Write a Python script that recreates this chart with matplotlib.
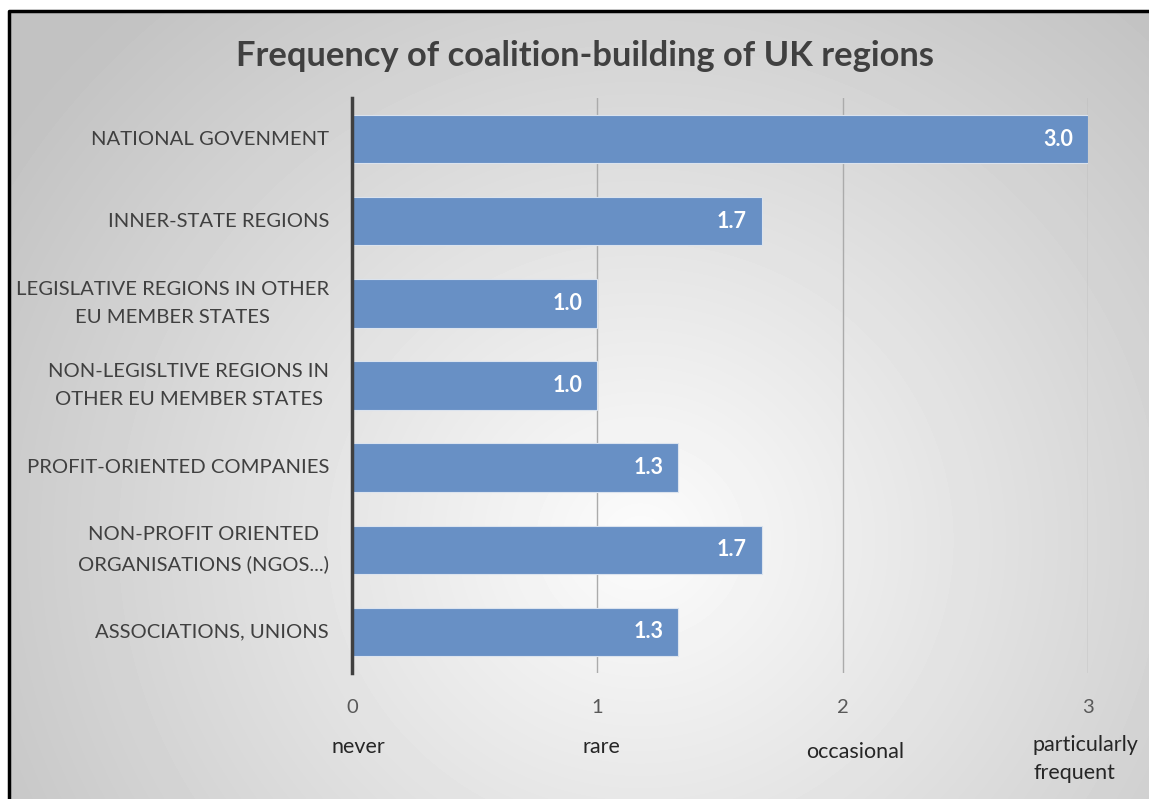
import matplotlib
matplotlib.use('Agg')
import matplotlib.pyplot as plt
import numpy as np

plt.rcParams['font.family'] = ['Lato', 'DejaVu Sans']

categories = ['NATIONAL GOVENMENT', 'INNER-STATE REGIONS',
              'LEGISLATIVE REGIONS IN OTHER\nEU MEMBER STATES',
              'NON-LEGISLTIVE REGIONS IN\nOTHER EU MEMBER STATES',
              'PROFIT-ORIENTED COMPANIES',
              'NON-PROFIT ORIENTED\nORGANISATIONS (NGOS...)',
              'ASSOCIATIONS, UNIONS']
values = [3.0, 1.67, 1.0, 1.0, 1.33, 1.67, 1.33]
xticks = [0, 1, 2, 3]
scale_labels = ['never', 'rare', 'occasional', 'particularly\nfrequent']

W, H = 1149, 799
fig = plt.figure(figsize=(W / 100, H / 100), dpi=100, facecolor='white')

# radial grey background like the office chart area
bg = fig.add_axes([0, 0, 1, 1], zorder=-5)
yy, xx = np.mgrid[0:H, 0:W]
d = np.sqrt(((xx - 640) / 1.0) ** 2 + ((yy - 540) / 0.95) ** 2)
shade = 252 - 58 * np.clip(d / 760, 0, 1)
bg.imshow(shade, cmap='gray', vmin=0, vmax=255, extent=[0, W, H, 0], aspect='auto')
bg.set_xlim(0, W)
bg.set_ylim(H, 0)
bg.fill_between([0, W], 0, 10, color='white')
bg.fill_between([0, 7], 0, H, color='white')
bg.plot([8.5, 8.5, W], [H, 11, 11], color='black', lw=2.5, solid_capstyle='butt')
bg.axis('off')

ax = fig.add_axes([352 / W, 1 - 673 / H, (1088 - 352) / W, (673 - 98) / H])
ax.patch.set_alpha(0)
y = np.arange(len(categories))
bars = ax.barh(y, values, height=0.59, color='#6890c5', edgecolor='#dbe3ee', linewidth=0.8, zorder=3)
ax.set_xlim(0, 3)
ax.set_ylim(len(categories) - 0.5, -0.5)
ax.set_yticks(y)
ax.set_yticklabels(categories, fontsize=14.6, color='#404040', multialignment='center',
                   linespacing=1.8, va='center')
ax.set_xticks(xticks)
ax.set_xticklabels([str(t) for t in xticks], fontsize=14.5, color='#595959')
ax.tick_params(axis='y', length=0, pad=16.5)
ax.tick_params(axis='x', length=0, pad=19)
ax.grid(axis='x', color='#ababab', lw=1, zorder=1)
for s in ['top', 'right', 'bottom']:
    ax.spines[s].set_visible(False)
ax.spines['left'].set_color('#404040')
ax.spines['left'].set_linewidth(2.5)
ax.spines['left'].set_zorder(4)

for b, v in zip(bars, values):
    ax.text(v - 0.06, b.get_y() + b.get_height() / 2, f'{v:.1f}', ha='right', va='center',
            color='white', fontsize=15.5, fontweight='bold', zorder=5)

fig.text(585 / W, 1 - 56 / H, 'Frequency of coalition-building of UK regions',
         ha='center', va='center', fontsize=24.8, fontweight='bold', color='#404040')

# scale labels under the ticks
pos = [(358, 747, 'center'), (601, 747, 'center'), (855, 752, 'center'), (1033, 759, 'left')]
for (px, py, ha), lab in zip(pos, scale_labels):
    fig.text(px / W, 1 - py / H, lab, ha=ha, va='center', fontsize=15.5, color='#262626',
             linespacing=1.45)

fig.savefig('out.png', dpi=100)
